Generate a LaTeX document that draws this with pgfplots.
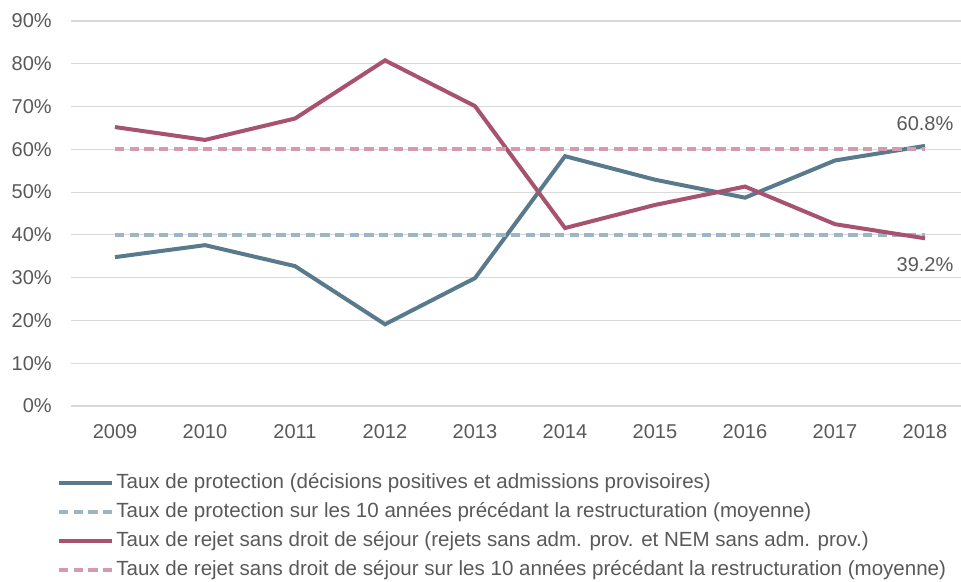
\documentclass[border=0pt]{standalone}
\usepackage{pgfplots}
\pgfplotsset{compat=1.18}
\usepackage{fontspec}
\setmainfont{Liberation Sans}
\definecolor{prot}{HTML}{587A8C}
\definecolor{protl}{HTML}{9DB6C5}
\definecolor{rej}{HTML}{A7536F}
\definecolor{rejl}{HTML}{D49BB0}
\definecolor{txt}{HTML}{595959}
\definecolor{grd}{HTML}{D9D9D9}
\begin{document}
\begin{tikzpicture}
\begin{axis}[
  scale only axis,
  width=667.5pt, height=288.75pt,
  xmin=2008.511, xmax=2018.4,
  ymin=0, ymax=90,
  xtick={2009,...,2018},
  ytick={0,10,...,90},
  /pgf/number format/assume math mode=true,
  xticklabel style={/pgf/number format/1000 sep={}, anchor=center, yshift=-19pt},
  yticklabel={\pgfmathprintnumber{\tick}\%},
  yticklabel style={anchor=east, inner sep=0pt, xshift=-14.25pt},
  tick label style={font=\fontsize{15}{18}\selectfont, text=txt},
  major tick length=0pt,
  ymajorgrids,
  grid style={grd, line width=0.8pt},
  axis line style={draw=none},
  clip=false,
  legend cell align=left,
  legend style={draw=none, fill=none, at={(rel axis cs:0,0)}, anchor=north west,
    xshift=-10.5pt, yshift=-50.8pt, outer sep=0pt,
    font=\fontsize{15.4}{18}\selectfont, text=txt, row sep=7.25pt, inner sep=0pt,
    nodes={inner sep=0pt, text height=11pt, text depth=3.5pt},
    column sep=1.5pt},
  legend image code/.code={\draw[#1] (0pt,0pt) -- (40pt,0pt);},
]
\addplot[prot, line width=3pt] coordinates {
(2009,34.8) (2010,37.6) (2011,32.7) (2012,19.1) (2013,29.9) (2014,58.4) (2015,52.9) (2016,48.7) (2017,57.4) (2018,60.8)};
\addlegendentry{Taux de protection (décisions positives et admissions provisoires)}
\addplot[protl, line width=3pt, dash pattern=on 7pt off 4pt] coordinates {(2009,40) (2018,40)};
\addlegendentry{Taux de protection sur les 10 années précédant la restructuration (moyenne)}
\addplot[rej, line width=3pt] coordinates {
(2009,65.2) (2010,62.2) (2011,67.2) (2012,80.8) (2013,70.1) (2014,41.6) (2015,47.0) (2016,51.3) (2017,42.5) (2018,39.2)};
\addlegendentry{Taux de rejet sans droit de séjour (rejets sans adm. prov. et NEM sans adm. prov.)}
\addplot[rejl, line width=3pt, dash pattern=on 7pt off 4pt] coordinates {(2009,60) (2018,60)};
\addlegendentry{Taux de rejet sans droit de séjour sur les 10 années précédant la restructuration (moyenne)}
\node[text=txt, font=\fontsize{15}{18}\selectfont, anchor=center, inner sep=0pt] at (axis cs:2018,60.8) [yshift=16.5pt] {60.8\%};
\node[text=txt, font=\fontsize{15}{18}\selectfont, anchor=center, inner sep=0pt] at (axis cs:2018,39.2) [yshift=-20pt] {39.2\%};
\coordinate (BL) at (rel axis cs:0,0);
\coordinate (TR) at (rel axis cs:1,1);
\end{axis}
\pgfresetboundingbox
\path[use as bounding box] ([xshift=-53.25pt, yshift=-131.25pt]BL) rectangle ([yshift=15.75pt]TR);
\end{tikzpicture}
\end{document}
